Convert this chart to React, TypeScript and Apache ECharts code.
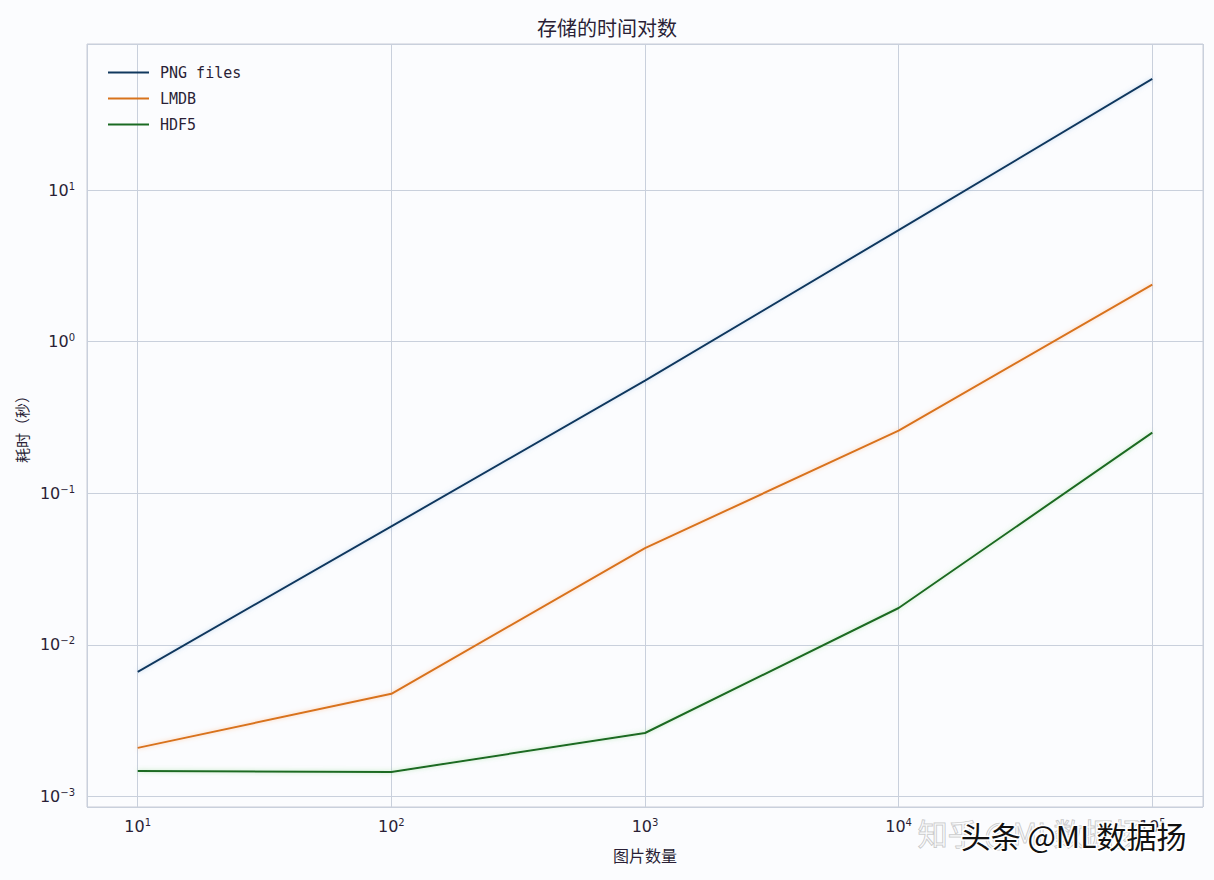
import React, { useEffect, useRef } from "react";
import * as echarts from "echarts";

const imageCounts = [10, 100, 1000, 10000, 100000];
const seriesNames = ["PNG files", "LMDB", "HDF5"];
const pngTimes = [0.00664, 0.0605, 0.553, 5.45, 54.1];
const lmdbTimes = [0.00209, 0.00475, 0.0434, 0.259, 2.38];
const hdf5Times = [0.00147, 0.00145, 0.00262, 0.0175, 0.251];
const seriesColors = ["#11385e", "#d8731c", "#1a6a22"];
const glowColors = ["rgba(120,170,220,0.5)", "rgba(255,170,110,0.6)", "rgba(120,210,120,0.5)"];

const titleText = "存储的时间对数";
const xAxisName = "图片数量";
const yAxisName = "耗时（秒）";

const textColor = "#2a1f36";

function supLabel(v: number): string {
  const e = Math.round(Math.log10(v));
  const s = e < 0 ? "\u2212" + Math.abs(e) : String(e);
  return "10{s|" + s + "}";
}

export default function App() {
  const ref = useRef<HTMLDivElement>(null);
  useEffect(() => {
    if (!ref.current) return;
    const chart = echarts.init(ref.current, undefined, { renderer: "svg" });
    const allData = [pngTimes, lmdbTimes, hdf5Times];
    const richLabel = {
      fontSize: 16,
      color: textColor,
      fontFamily: "DejaVu Sans",
      rich: {
        s: { fontSize: 10, verticalAlign: "top", color: textColor, fontFamily: "DejaVu Sans", padding: [0, 0, 8, 0] },
      },
    };
    chart.setOption({
      animation: false,
      backgroundColor: "#fbfcfe",
      title: {
        text: titleText,
        left: "center",
        top: 12,
        textStyle: { fontSize: 20, fontWeight: "normal", color: textColor, fontFamily: "Noto Sans CJK SC" },
      },
      legend: {
        orient: "vertical",
        left: 103,
        top: 60,
        icon: "rect",
        itemWidth: 41,
        itemHeight: 2,
        itemGap: 11,
        textStyle: { fontSize: 15, color: textColor, fontFamily: "DejaVu Sans Mono", padding: [0, 0, 0, 6] },
        data: seriesNames,
      },
      grid: {
        left: 87,
        right: 11,
        top: 44,
        bottom: 73,
        show: true,
        borderColor: "#c8cdd8",
        borderWidth: 1,
        backgroundColor: "#fbfcfe",
      },
      xAxis: {
        type: "log",
        logBase: 10,
        min: Math.pow(10, 0.8),
        max: Math.pow(10, 5.2),
        name: xAxisName,
        nameLocation: "middle",
        nameGap: 40,
        nameTextStyle: { fontSize: 16, color: textColor, fontFamily: "Noto Sans CJK SC" },
        axisLine: { show: false },
        axisTick: { show: false },
        minorTick: { show: false },
        axisLabel: {
          ...richLabel,
          margin: 10,
          showMinLabel: false,
          showMaxLabel: false,
          formatter: supLabel,
        },
        splitLine: { show: true, lineStyle: { color: "#c9d0dc", width: 1 } },
      },
      yAxis: {
        type: "log",
        logBase: 10,
        min: Math.pow(10, -3.07),
        max: Math.pow(10, 1.964),
        name: yAxisName,
        nameLocation: "middle",
        nameGap: 46,
        nameTextStyle: { fontSize: 15, color: textColor, fontFamily: "Noto Sans CJK SC" },
        axisLine: { show: false },
        axisTick: { show: false },
        minorTick: { show: false },
        axisLabel: {
          ...richLabel,
          margin: 12,
          showMinLabel: false,
          showMaxLabel: false,
          formatter: supLabel,
        },
        splitLine: { show: true, lineStyle: { color: "#c9d0dc", width: 1 } },
      },
      series: seriesNames.map((name, i) => ({
        name,
        type: "line",
        symbol: "none",
        color: seriesColors[i],
        lineStyle: {
          width: 2,
          color: seriesColors[i],
          shadowColor: glowColors[i],
          shadowBlur: 4,
        },
        data: imageCounts.map((x, j) => [x, allData[i][j]]),
      })),
      graphic: [
        {
          type: "text",
          right: 70,
          top: 816,
          z: 10,
          style: {
            text: "知乎 @ML数据扬",
            fontSize: 30,
            fontFamily: "Noto Sans CJK SC",
            fill: "rgba(255,255,255,0.3)",
            stroke: "rgba(150,150,150,0.55)",
            lineWidth: 1,
          },
        },
        {
          type: "text",
          right: 26,
          top: 818,
          z: 11,
          style: {
            text: "头条 @ML数据扬",
            fontSize: 30,
            fontFamily: "Noto Sans CJK SC",
            fill: "#111111",
            stroke: "#ffffff",
            lineWidth: 3,
          },
        },
      ],
    });
    return () => chart.dispose();
  }, []);
  return (
    <div
      ref={ref}
      style={{ position: "fixed", left: 0, top: 0, width: 1214, height: 880 }}
    />
  );
}
